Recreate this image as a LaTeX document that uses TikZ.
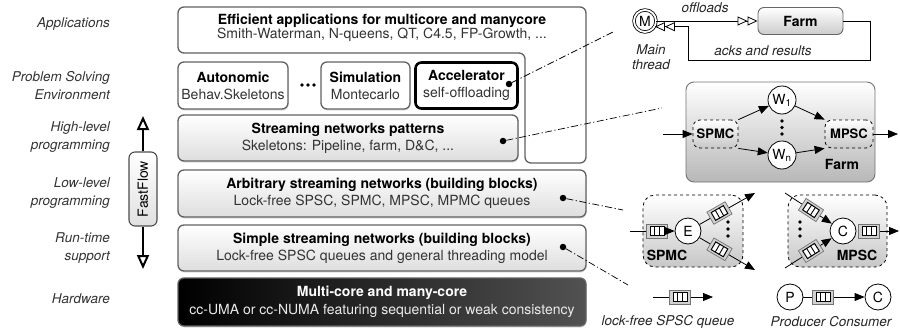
\documentclass[tikz,border=0pt]{standalone}
\usepackage{fontspec}
\setmainfont{TeX Gyre Heros}
\usetikzlibrary{arrows.meta,shadows}
\tikzset{queue/.pic={
  \node[transform shape, draw=black!55, fill=black!18, line width=0.7pt, minimum width=21pt, minimum height=14pt, inner sep=0pt] (-box) {};
  \draw[line width=1pt, fill=white] (-7,-4.5) rectangle (7,4.5);
  \draw[line width=0.9pt] (-2.3,-4.5) -- (-2.3,4.5) (2.3,-4.5) -- (2.3,4.5);
}}
\begin{document}
\begin{tikzpicture}[x=1pt,y=-1pt,
  every node/.style={inner sep=0pt},
  lbl/.style={font=\fontsize{13.5}{17.5}\selectfont\itshape, text=black!80, align=right, anchor=east},
  note/.style={font=\fontsize{13.5}{15}\selectfont\itshape, text=black!85, align=center},
  layer/.style={draw=black!62, line width=1.3pt, rounded corners=6pt, align=center,
     font=\fontsize{14}{17}\selectfont, drop shadow={opacity=0.25, shadow xshift=0.6pt, shadow yshift=-1.6pt}},
  greylayer/.style={layer, top color=white, bottom color=black!13},
  whitelayer/.style={layer, fill=white},
  dashdot/.style={line width=0.7pt, dash pattern=on 7pt off 2.5pt on 1.2pt off 2.5pt},
  pindot/.style={circle, fill=black, minimum size=6.5pt},
  smalldot/.style={circle, fill=black, minimum size=3.8pt},
  proc/.style={circle, draw=black, line width=0.8pt, fill=white, minimum size=26pt, font=\fontsize{14}{14}\selectfont},
  grp/.style={draw=black, dashed, line width=0.8pt, rounded corners=12pt, top color=white, bottom color=black!22},
  arr/.style={-{Triangle[length=10pt,width=8pt]}, line width=0.8pt},
  dblopen/.style={-{Triangle[open,length=10pt,width=9pt,fill=white]Triangle[open,length=10pt,width=9pt,fill=white]}, line width=0.8pt},
  ffarrow/.style={-{Triangle[open,length=14pt,width=12pt,fill=white]}, line width=2pt},
  boldlbl/.style={font=\fontsize{14}{14}\selectfont\bfseries}
]
\useasboundingbox (0,0) rectangle (900,332);

% left labels
\node[lbl] (l1) at (110,24) {Applications};
\node[lbl] (l2) at (110,85.5) {Problem Solving\\Environment};
\node[lbl] (l3) at (110,137) {High-level\\programming};
\node[lbl] (l4) at (110,193) {Low-level\\programming};
\node[lbl] (l5) at (110,248) {Run-time\\support};
\node[lbl] (l6) at (110,299) {Hardware};

% FastFlow arrow
\coordinate (fftop) at (143,116);
\coordinate (ffbot) at (143,269);
\node[draw=black!70, line width=1.1pt, rounded corners=6pt, rotate=90, minimum width=74pt, minimum height=28pt,
  top color=white, bottom color=black!12, font=\fontsize{14}{14}\selectfont] (ff) at (143,189) {FastFlow};
\draw[ffarrow] (ff) -- (fftop);
\draw[ffarrow] (ff) -- (ffbot);

% top L-shaped applications box
\draw[draw=black!62, line width=1.3pt, fill=white, rounded corners=6pt]
  (178,7) -- (586,7) -- (586,163) -- (525,163) -- (525,53) -- (178,53) -- cycle;
\node[align=center, font=\fontsize{14}{17}\selectfont] (apps) at (382,28)
  {\textbf{Efficient applications for multicore and manycore}\\[-3pt]
   \textcolor{black!80}{Smith-Waterman, N-queens, QT, C4.5, FP-Growth, ...}};

% problem solving row
\node[whitelayer, minimum width=110pt, minimum height=47pt] (auto) at (233,85.5)
  {\textbf{Autonomic}\\\textcolor{black!80}{Behav.Skeletons}};
\node[smalldot] (d1) at (302,85) {};
\node[smalldot] (d2) at (308,85) {};
\node[smalldot] (d3) at (314,85) {};
\node[whitelayer, minimum width=89pt, minimum height=47pt] (sim) at (365.5,85.5)
  {\textbf{Simulation}\\\textcolor{black!80}{Montecarlo}};
\node[layer, draw=black, line width=2.6pt, fill=white, minimum width=102pt, minimum height=46pt] (acc) at (466.5,85.5)
  {\textbf{Accelerator}\\\textcolor{black!80}{self-offloading}};

% layers
\node[greylayer, minimum width=340pt, minimum height=46pt] (stream) at (348,138)
  {\textbf{Streaming networks patterns}\\\textcolor{black!80}{Skeletons: Pipeline, farm, D\&C, ...}};
\node[greylayer, minimum width=408pt, minimum height=47pt] (arb) at (382,193.5)
  {\textbf{Arbitrary streaming networks (building blocks)}\\\textcolor{black!80}{Lock-free SPSC, SPMC, MPSC, MPMC queues}};
\node[greylayer, minimum width=408pt, minimum height=46pt] (simple) at (382,248)
  {\textbf{Simple streaming networks (building blocks)}\\\textcolor{black!80}{Lock-free SPSC queues and general threading model}};
\node[layer, left color=black, right color=black!68, text=white, minimum width=408pt, minimum height=48pt] (hw) at (382,302)
  {\textbf{Multi-core and many-core}\\[1pt]\textcolor{white!92!black}{cc-UMA or cc-NUMA featuring sequential or weak consistency}};

% pin dots and dash-dot leaders
\node[pindot] (p1) at (509,84) {};
\node[pindot] (p2) at (503,141) {};
\node[pindot] (p3) at (563,198) {};
\node[pindot] (p4) at (563,247) {};
\coordinate (c1) at (613,32);
\coordinate (c2) at (662,108);
\coordinate (c3) at (623,210);
\coordinate (c4) at (628,285);
\draw[dashdot] (p1) -- (c1);
\draw[dashdot] (p2) -- (c2);
\draw[dashdot] (p3) -- (c3);
\draw[dashdot] (p4) -- (c4);

% accelerator: main thread and farm
\node[circle, draw=black, line width=0.8pt, double, double distance=1.8pt, minimum size=22pt, fill=white,
  font=\fontsize{14}{14}\selectfont] (M) at (645,21) {M};
\node[note] (mainlbl) at (651,57) {Main\\thread};
\node[draw=black!60, line width=0.9pt, rounded corners=6pt, top color=white, bottom color=black!20,
  minimum width=85pt, minimum height=27pt, boldlbl] (farmtop) at (800.5,21) {Farm};
\node[note] (offl) at (705,8) {offloads};
\node[note] (acks) at (763,51) {acks and results};
\draw[dblopen] (M) -- (farmtop);
\coordinate (a1) at (870,21);
\coordinate (a2) at (870,60);
\coordinate (a3) at (688,60);
\draw[dblopen] (farmtop.east) -- (a1) -- (a2) -- (a3) -- (a3 |- M.-30) -- (M.-30);

% farm pattern
\node[draw=black!55, line width=0.9pt, rounded corners=8pt, top color=white, bottom color=black!28,
  minimum width=189pt, minimum height=100pt] (farmbox) at (780.5,132) {};
\node[grp, rounded corners=7pt, minimum width=45pt, minimum height=28pt, font=\fontsize{13}{13}\selectfont\bfseries] (fspmc) at (715.5,134) {SPMC};
\node[grp, rounded corners=7pt, minimum width=48pt, minimum height=28pt, font=\fontsize{13}{13}\selectfont\bfseries] (fmpsc) at (849,134) {MPSC};
\node[proc, minimum size=28pt] (w1) at (782,100) {W\textsubscript{1}};
\node[proc, minimum size=28pt] (wn) at (782,155) {W\textsubscript{n}};
\node[smalldot] (fd1) at (782,121) {};
\node[smalldot] (fd2) at (782,127.5) {};
\node[smalldot] (fd3) at (782,134) {};
\node[boldlbl] (farmlbl) at (842,164) {Farm};
\coordinate (fin) at (663,134);
\coordinate (fout) at (898,134);
\draw[arr] (fin) -- (fspmc);
\draw[arr] (fmpsc) -- (fout);
\draw[arr] (fspmc.north east) -- (w1);
\draw[arr] (fspmc.south east) -- (wn);
\draw[arr] (w1) -- (fmpsc.north west);
\draw[arr] (wn) -- (fmpsc.south west);

% SPMC building block
\node[grp, minimum width=100pt, minimum height=72pt] (spmcg) at (693,231) {};
\node[boldlbl] (spmclbl) at (667,255) {SPMC};
\node[proc] (E) at (688,231) {E};
\coordinate (sin) at (630,231);
\coordinate (t1) at (755,193);
\coordinate (t2) at (755,270);
\pic (qs) at (657,231) {queue};
\draw[line width=0.8pt] (sin) -- (qs-box);
\draw[arr] (qs-box) -- (E);
\draw[arr] (E) -- (t1);
\draw[arr] (E) -- (t2);
\pic[rotate=29.6] (qa) at (719.5,213) {queue};
\pic[rotate=-30.2] (qb) at (719.5,249.3) {queue};
\node[smalldot] (sd1) at (728,222) {};
\node[smalldot] (sd2) at (728,229) {};
\node[smalldot] (sd3) at (728,236) {};

% MPSC building block
\node[grp, minimum width=99pt, minimum height=72pt] (mpscg) at (837.5,231) {};
\node[boldlbl] (mpsclbl) at (857,255) {MPSC};
\node[proc] (C) at (843,231) {C};
\coordinate (s1) at (785,193);
\coordinate (s2) at (785,268);
\coordinate (mout) at (899,231);
\draw[arr] (s1) -- (C);
\draw[arr] (s2) -- (C);
\pic[rotate=-33.2] (qc) at (811,210) {queue};
\pic[rotate=32.5] (qd) at (811,251) {queue};
\pic (qm) at (869,231) {queue};
\draw[arr] (qm-box) -- (mout);
\node[smalldot] (md1) at (800,222) {};
\node[smalldot] (md2) at (800,229) {};
\node[smalldot] (md3) at (800,236) {};

% lock-free SPSC queue
\coordinate (lin) at (653,297);
\coordinate (lout) at (713,297);
\pic (ql) at (680,297) {queue};
\draw[line width=0.8pt] (lin) -- (ql-box);
\draw[arr] (ql-box) -- (lout);
\node[note] (lflbl) at (668,322) {lock-free SPSC queue};

% producer consumer
\node[proc] (P) at (790,297) {P};
\node[proc] (C2) at (878,297) {C};
\pic (qp) at (823,297) {queue};
\draw[line width=0.8pt] (P) -- (qp-box);
\draw[arr] (qp-box) -- (C2);
\node[note] (pclbl) at (831,322) {Producer Consumer};
\end{tikzpicture}
\end{document}
